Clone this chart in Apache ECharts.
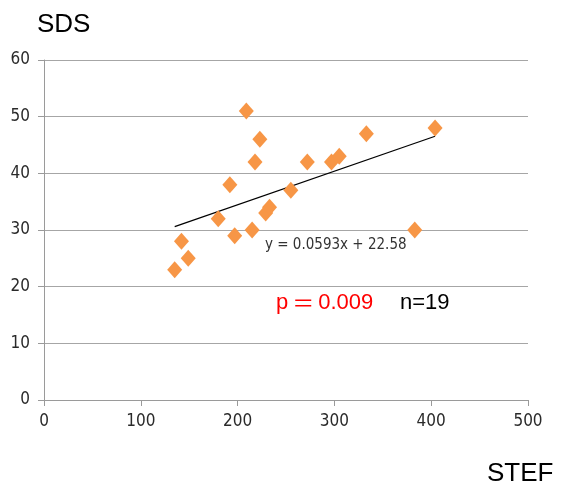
<!DOCTYPE html>
<html>
<head>
<meta charset="utf-8">
<script src="https://cdn.jsdelivr.net/npm/echarts@6/dist/echarts.min.js"></script>
<style>
  html, body { margin: 0; padding: 0; background: #fff; }
  #chart { width: 561px; height: 493px; }
</style>
</head>
<body>
<div id="chart"></div>
<script>
// STEF (x) vs SDS (y), one point per subject
const stef = [135, 142, 149, 180, 192, 197, 209, 215, 218, 223, 229, 233, 255, 272, 297, 305, 333, 383, 404];
const sds  = [23, 28, 25, 32, 38, 29, 51, 30, 42, 46, 33, 34, 37, 42, 42, 43, 47, 30, 48];

// Linear fit: y = slope * x + intercept
const slope = 0.0593;
const intercept = 22.58;

const xTicks = [0, 100, 200, 300, 400, 500];
const yTicks = [0, 10, 20, 30, 40, 50, 60];

const points = stef.map((x, i) => [x, sds[i]]);
const xMin = Math.min(...stef);
const xMax = Math.max(...stef);
const fitLine = [[xMin, slope * xMin + intercept], [xMax, slope * xMax + intercept]];

const labelFont = '"DejaVu Sans Condensed", "Liberation Sans Narrow", sans-serif';
const titleFont = '"Liberation Sans", Arial, sans-serif';

const chart = echarts.init(document.getElementById('chart'), null, { renderer: 'canvas' });
chart.setOption({
  animation: false,
  backgroundColor: '#ffffff',
  grid: { left: 44, right: 33, top: 60, bottom: 93 },
  xAxis: {
    type: 'value',
    min: xTicks[0], max: xTicks[xTicks.length - 1], interval: 100,
    axisLine: { show: true, lineStyle: { color: '#9a9a9a', width: 1 } },
    axisTick: { show: true, length: 6, lineStyle: { color: '#9a9a9a' } },
    splitLine: { show: false },
    axisLabel: { color: '#2a2a2a', fontSize: 17, fontFamily: labelFont, margin: 13 }
  },
  yAxis: {
    type: 'value',
    min: yTicks[0], max: yTicks[yTicks.length - 1], interval: 10,
    axisLine: { show: true, lineStyle: { color: '#9a9a9a', width: 1 } },
    axisTick: { show: true, length: 6, lineStyle: { color: '#9a9a9a' } },
    splitLine: { show: true, lineStyle: { color: '#a6a6a6', width: 1 } },
    axisLabel: { color: '#2a2a2a', fontSize: 17, fontFamily: labelFont, margin: 14 }
  },
  series: [
    {
      type: 'line',
      data: fitLine,
      symbol: 'none',
      lineStyle: { color: '#000', width: 1.2 },
      z: 3
    },
    {
      type: 'scatter',
      data: points,
      symbol: 'diamond',
      symbolSize: [15, 17],
      itemStyle: { color: '#f79646', opacity: 1 },
      z: 4
    }
  ],
  graphic: [
    { type: 'text', left: 37, top: 12,
      style: { text: 'SDS', fontSize: 26, fontFamily: titleFont, fill: '#000' } },
    { type: 'text', left: 487, top: 461,
      style: { text: 'STEF', fontSize: 26, fontFamily: titleFont, fill: '#000' } },
    { type: 'text', left: 265, top: 238,
      style: { text: 'y = 0.0593x + 22.58', fontSize: 15, fontFamily: labelFont, fill: '#333' } },
    { type: 'text', left: 276, top: 292,
      style: {
        text: '{a|p}{b|\uFF1D}{a|0.009}',
        rich: {
          a: { fontSize: 22, fontFamily: titleFont, fill: '#ff0000', color: '#ff0000' },
          b: { fontSize: 22, fontFamily: '"Noto Sans CJK JP", sans-serif', fill: '#ff0000', color: '#ff0000', padding: [0, 4, 0, 4] }
        }
      } },
    { type: 'text', left: 400, top: 292,
      style: { text: 'n=19', fontSize: 22, fontFamily: titleFont, fill: '#000' } }
  ]
});
</script>
</body>
</html>
